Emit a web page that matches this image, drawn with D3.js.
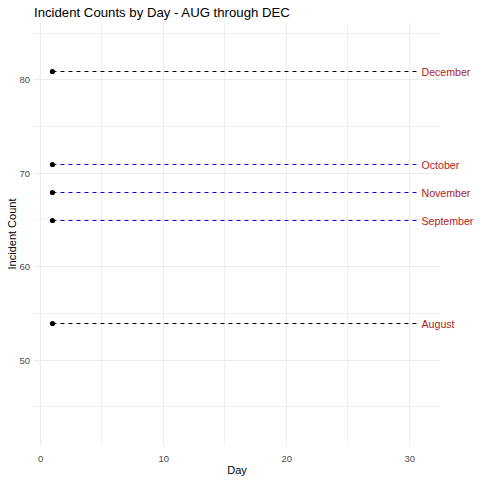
<!DOCTYPE html>
<html>
<head>
<meta charset="utf-8">
<script src="https://cdn.jsdelivr.net/npm/d3@7"></script>
<style>
  body { margin: 0; background: #fff; }
  text { font-family: "Liberation Sans", Arial, sans-serif; }
</style>
</head>
<body>
<div id="chart"></div>
<script>
var months = ["August", "September", "October", "November", "December"]
var counts = [54, 65, 71, 68, 81]
var startDay = 1
var endDay = 31
var xMajor = [0, 10, 20, 30]
var xMinor = [5, 15, 25]
var yMajor = [50, 60, 70, 80]
var yMinor = [45, 55, 65, 75, 85]

var width = 480, height = 480
var panel = { left: 34, right: 440, top: 23, bottom: 445 }

var svg = d3.select("#chart").append("svg")
  .attr("width", width)
  .attr("height", height)

var x = d3.scaleLinear().domain([-0.5, 32.5]).range([panel.left, panel.right])
var y = d3.scaleLinear().domain([40.9, 86.1]).range([panel.bottom, panel.top])

// snap a pixel position onto the middle of a pixel row, keeps 1px lines sharp
function snap(v) { return Math.round(v) + 0.5 }

var grid = svg.append("g").attr("class", "grid")
  .attr("shape-rendering", "crispEdges")
// minor grid first
grid.selectAll("line.xminor").data(xMinor).enter().append("line")
  .attr("x1", d => x(d)).attr("x2", d => x(d))
  .attr("y1", panel.top).attr("y2", panel.bottom)
  .attr("stroke", "#ebebeb").attr("stroke-width", 0.8)
grid.selectAll("line.yminor").data(yMinor).enter().append("line")
  .attr("y1", d => y(d)).attr("y2", d => y(d))
  .attr("x1", panel.left).attr("x2", panel.right)
  .attr("stroke", "#ebebeb").attr("stroke-width", 0.8)
grid.selectAll("line.xmajor").data(xMajor).enter().append("line")
  .attr("x1", d => x(d)).attr("x2", d => x(d))
  .attr("y1", panel.top).attr("y2", panel.bottom)
  .attr("stroke", "#ebebeb").attr("stroke-width", 1)
grid.selectAll("line.ymajor").data(yMajor).enter().append("line")
  .attr("y1", d => y(d)).attr("y2", d => y(d))
  .attr("x1", panel.left).attr("x2", panel.right)
  .attr("stroke", "#ebebeb").attr("stroke-width", 1)

// axes (text only, like theme_minimal)
var xAxis = svg.append("g")
  .attr("transform", "translate(0," + (panel.bottom + 2) + ")")
  .call(d3.axisBottom(x).tickValues(xMajor).tickSize(0).tickPadding(8))
xAxis.select(".domain").remove()
xAxis.selectAll("text").attr("fill", "#4d4d4d").attr("font-size", 9.5)
  .attr("font-family", "Liberation Sans, Arial, sans-serif")

var yAxis = svg.append("g")
  .attr("transform", "translate(" + (panel.left - 4) + ",0)")
  .call(d3.axisLeft(y).tickValues(yMajor).tickSize(0).tickPadding(0))
yAxis.select(".domain").remove()
yAxis.selectAll("text").attr("fill", "#4d4d4d").attr("font-size", 9.5)
  .attr("font-family", "Liberation Sans, Arial, sans-serif")

var rows = months.map(function(m, i) { return { month: m, count: counts[i] } })
var ext = d3.extent(counts)
// highest and lowest month drawn in black, the rest in blue
function segColor(d) {
  return (d.count === ext[0] || d.count === ext[1]) ? "#000000" : "#0000ff"
}

var marks = svg.append("g").attr("class", "marks")
marks.selectAll("line.seg").data(rows).enter().append("line")
  .attr("x1", x(startDay)).attr("x2", x(endDay) - 4)
  .attr("y1", d => snap(y(d.count))).attr("y2", d => snap(y(d.count)))
  .attr("stroke", segColor).attr("stroke-width", 1)
  .attr("stroke-dasharray", "4,4")

marks.selectAll("circle").data(rows).enter().append("circle")
  .attr("cx", x(startDay)).attr("cy", d => snap(y(d.count)))
  .attr("r", 2.6).attr("fill", "#000")

marks.selectAll("text.lbl").data(rows).enter().append("text")
  .attr("x", x(endDay))
  .attr("y", d => y(d.count) + 5)
  .attr("font-size", 10.6)
  .attr("fill", "#b22222")
  .text(d => d.month)

// titles
svg.append("text")
  .attr("x", panel.left).attr("y", 17)
  .attr("font-size", 13.2).attr("fill", "#000")
  .text("Incident Counts by Day - AUG through DEC")

svg.append("text")
  .attr("x", (panel.left + panel.right) / 2).attr("y", 474)
  .attr("text-anchor", "middle").attr("font-size", 11).attr("fill", "#000")
  .text("Day")

svg.append("text")
  .attr("transform", "translate(16," + ((panel.top + panel.bottom) / 2) + ") rotate(-90)")
  .attr("text-anchor", "middle").attr("font-size", 11).attr("fill", "#000")
  .text("Incident Count")
</script>
</body>
</html>
